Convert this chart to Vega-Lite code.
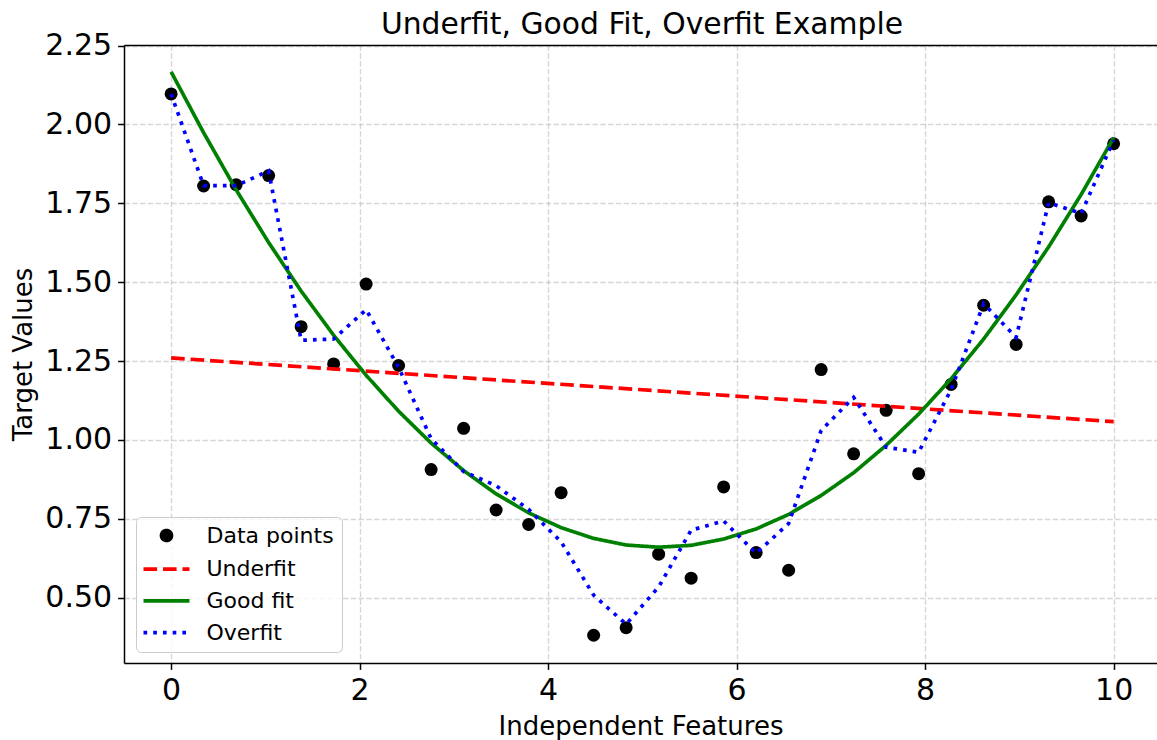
{
  "$schema": "https://vega.github.io/schema/vega-lite/v6.json",
  "width": 1033,
  "height": 618,
  "autosize": {"type": "none"},
  "padding": {"left": 124, "top": 45, "right": 0, "bottom": 77},
  "background": "white",
  "title": {"text": "Underfit, Good Fit, Overfit Example", "font": "DejaVu Sans", "fontSize": 29.8, "fontWeight": "normal", "color": "black", "offset": -9, "anchor": "middle", "dx": 1.5},
  "config": {
    "view": {"stroke": null},
    "font": "DejaVu Sans",
    "axis": {
      "domainColor": "black", "domainWidth": 1.5,
      "tickColor": "black", "tickWidth": 1.5, "tickSize": 6.4,
      "labelFont": "DejaVu Sans", "labelFontSize": 30, "labelColor": "black",
      "titleFont": "DejaVu Sans", "titleFontSize": 26, "titleFontWeight": "normal", "titleColor": "black",
      "gridColor": "#b0b0b0", "gridOpacity": 0.5, "gridWidth": 1.4, "gridDash": [5.4, 2.4]
    },
    "legend": {
      "orient": "bottom-left", "offset": 11.5,
      "labelFont": "DejaVu Sans", "labelFontSize": 22, "labelColor": "black",
      "symbolSize": 100, "symbolStrokeWidth": 3.67, "symbolOffset": 12, "labelOffset": 29,
      "rowPadding": 9.7, "padding": 7.5,
      "strokeColor": "#cccccc", "fillColor": "rgba(255,255,255,0.8)", "cornerRadius": 5,
      "symbolOpacity": 1
    }
  },
  "data": {"values": [
    {"s": "Data points", "x": 0, "y": 2.097},
    {"s": "Data points", "x": 0.3448, "y": 1.805},
    {"s": "Data points", "x": 0.6897, "y": 1.809},
    {"s": "Data points", "x": 1.0345, "y": 1.838},
    {"s": "Data points", "x": 1.3793, "y": 1.359},
    {"s": "Data points", "x": 1.7241, "y": 1.241},
    {"s": "Data points", "x": 2.069, "y": 1.494},
    {"s": "Data points", "x": 2.4138, "y": 1.236},
    {"s": "Data points", "x": 2.7586, "y": 0.906},
    {"s": "Data points", "x": 3.1034, "y": 1.037},
    {"s": "Data points", "x": 3.4483, "y": 0.778},
    {"s": "Data points", "x": 3.7931, "y": 0.732},
    {"s": "Data points", "x": 4.1379, "y": 0.833},
    {"s": "Data points", "x": 4.4828, "y": 0.381},
    {"s": "Data points", "x": 4.8276, "y": 0.405},
    {"s": "Data points", "x": 5.1724, "y": 0.638},
    {"s": "Data points", "x": 5.5172, "y": 0.562},
    {"s": "Data points", "x": 5.8621, "y": 0.851},
    {"s": "Data points", "x": 6.2069, "y": 0.643},
    {"s": "Data points", "x": 6.5517, "y": 0.587},
    {"s": "Data points", "x": 6.8966, "y": 1.223},
    {"s": "Data points", "x": 7.2414, "y": 0.956},
    {"s": "Data points", "x": 7.5862, "y": 1.094},
    {"s": "Data points", "x": 7.931, "y": 0.893},
    {"s": "Data points", "x": 8.2759, "y": 1.176},
    {"s": "Data points", "x": 8.6207, "y": 1.427},
    {"s": "Data points", "x": 8.9655, "y": 1.303},
    {"s": "Data points", "x": 9.3103, "y": 1.755},
    {"s": "Data points", "x": 9.6552, "y": 1.71},
    {"s": "Data points", "x": 10, "y": 1.939},
    {"s": "Underfit", "x": 0, "y": 1.26},
    {"s": "Underfit", "x": 10, "y": 1.058},
    {"s": "Good fit", "x": 0, "y": 2.167},
    {"s": "Good fit", "x": 0.3448, "y": 1.974},
    {"s": "Good fit", "x": 0.6897, "y": 1.793},
    {"s": "Good fit", "x": 1.0345, "y": 1.626},
    {"s": "Good fit", "x": 1.3793, "y": 1.472},
    {"s": "Good fit", "x": 1.7241, "y": 1.332},
    {"s": "Good fit", "x": 2.069, "y": 1.205},
    {"s": "Good fit", "x": 2.4138, "y": 1.091},
    {"s": "Good fit", "x": 2.7586, "y": 0.99},
    {"s": "Good fit", "x": 3.1034, "y": 0.903},
    {"s": "Good fit", "x": 3.4483, "y": 0.829},
    {"s": "Good fit", "x": 3.7931, "y": 0.769},
    {"s": "Good fit", "x": 4.1379, "y": 0.722},
    {"s": "Good fit", "x": 4.4828, "y": 0.688},
    {"s": "Good fit", "x": 4.8276, "y": 0.667},
    {"s": "Good fit", "x": 5.1724, "y": 0.66},
    {"s": "Good fit", "x": 5.5172, "y": 0.666},
    {"s": "Good fit", "x": 5.8621, "y": 0.686},
    {"s": "Good fit", "x": 6.2069, "y": 0.718},
    {"s": "Good fit", "x": 6.5517, "y": 0.764},
    {"s": "Good fit", "x": 6.8966, "y": 0.824},
    {"s": "Good fit", "x": 7.2414, "y": 0.896},
    {"s": "Good fit", "x": 7.5862, "y": 0.983},
    {"s": "Good fit", "x": 7.931, "y": 1.082},
    {"s": "Good fit", "x": 8.2759, "y": 1.194},
    {"s": "Good fit", "x": 8.6207, "y": 1.32},
    {"s": "Good fit", "x": 8.9655, "y": 1.46},
    {"s": "Good fit", "x": 9.3103, "y": 1.612},
    {"s": "Good fit", "x": 9.6552, "y": 1.778},
    {"s": "Good fit", "x": 10, "y": 1.958},
    {"s": "Overfit", "x": 0, "y": 2.097},
    {"s": "Overfit", "x": 0.3448, "y": 1.806},
    {"s": "Overfit", "x": 0.6897, "y": 1.806},
    {"s": "Overfit", "x": 1.0345, "y": 1.853},
    {"s": "Overfit", "x": 1.3793, "y": 1.316},
    {"s": "Overfit", "x": 1.7241, "y": 1.32},
    {"s": "Overfit", "x": 2.069, "y": 1.413},
    {"s": "Overfit", "x": 2.4138, "y": 1.23},
    {"s": "Overfit", "x": 2.7586, "y": 1.004},
    {"s": "Overfit", "x": 3.1034, "y": 0.9},
    {"s": "Overfit", "x": 3.4483, "y": 0.855},
    {"s": "Overfit", "x": 3.7931, "y": 0.78},
    {"s": "Overfit", "x": 4.1379, "y": 0.677},
    {"s": "Overfit", "x": 4.4828, "y": 0.508},
    {"s": "Overfit", "x": 4.8276, "y": 0.416},
    {"s": "Overfit", "x": 5.1724, "y": 0.534},
    {"s": "Overfit", "x": 5.5172, "y": 0.714},
    {"s": "Overfit", "x": 5.8621, "y": 0.743},
    {"s": "Overfit", "x": 6.2069, "y": 0.641},
    {"s": "Overfit", "x": 6.5517, "y": 0.735},
    {"s": "Overfit", "x": 6.8966, "y": 1.03},
    {"s": "Overfit", "x": 7.2414, "y": 1.135},
    {"s": "Overfit", "x": 7.5862, "y": 0.977},
    {"s": "Overfit", "x": 7.931, "y": 0.961},
    {"s": "Overfit", "x": 8.2759, "y": 1.16},
    {"s": "Overfit", "x": 8.6207, "y": 1.432},
    {"s": "Overfit", "x": 8.9655, "y": 1.325},
    {"s": "Overfit", "x": 9.3103, "y": 1.752},
    {"s": "Overfit", "x": 9.6552, "y": 1.718},
    {"s": "Overfit", "x": 10, "y": 1.95}
  ]},
  "layer": [
    {
      "transform": [{"filter": "datum.s === 'Data points'"}],
      "mark": {"type": "point", "filled": true, "opacity": 1, "size": 169, "strokeWidth": 0},
      "encoding": {
        "x": {"field": "x", "type": "quantitative", "scale": {"domain": [-0.5, 10.46], "nice": false, "zero": false},
              "axis": {"orient": "top", "labels": false, "ticks": false, "grid": false, "title": null, "domain": true}},
        "y": {"field": "y", "type": "quantitative", "scale": {"domain": [0.293, 2.252], "nice": false, "zero": false},
              "axis": {"values": [0.5, 0.75, 1.0, 1.25, 1.5, 1.75, 2.0, 2.25], "format": ".2f", "title": "Target Values", "grid": true, "labelPadding": 6, "titlePadding": 8}},
        "color": {"field": "s", "type": "nominal",
                  "scale": {"domain": ["Data points", "Underfit", "Good fit", "Overfit"], "range": ["#000000", "#ff0000", "#008000", "#0000ff"]},
                  "legend": {"title": null}},
        "shape": {"field": "s", "type": "nominal",
                  "scale": {"domain": ["Data points", "Underfit", "Good fit", "Overfit"], "range": ["circle", "M-4.6,0L4.6,0", "M-4.6,0L4.6,0", "M-4.6,0L4.6,0"]},
                  "legend": {"title": null}}
      }
    },
    {
      "transform": [{"filter": "datum.s !== 'Data points'"}],
      "mark": {"type": "line", "strokeWidth": 3.67, "clip": true},
      "encoding": {
        "x": {"field": "x", "type": "quantitative", "scale": {"domain": [-0.5, 10.46], "nice": false, "zero": false},
              "axis": {"values": [0, 2, 4, 6, 8, 10], "format": "d", "title": "Independent Features", "grid": true, "labelPadding": 6, "titlePadding": 8}},
        "y": {"field": "y", "type": "quantitative"},
        "color": {"field": "s", "type": "nominal",
                  "scale": {"domain": ["Data points", "Underfit", "Good fit", "Overfit"], "range": ["#000000", "#ff0000", "#008000", "#0000ff"]},
                  "legend": {"title": null}},
        "strokeDash": {"field": "s", "type": "nominal",
                  "scale": {"domain": ["Data points", "Underfit", "Good fit", "Overfit"], "range": [[1, 0], [13.6, 5.9], [1, 0], [3.67, 6.05]]},
                  "legend": {"title": null}}
      }
    }
  ],
  "resolve": {"axis": {"x": "independent"}}
}
